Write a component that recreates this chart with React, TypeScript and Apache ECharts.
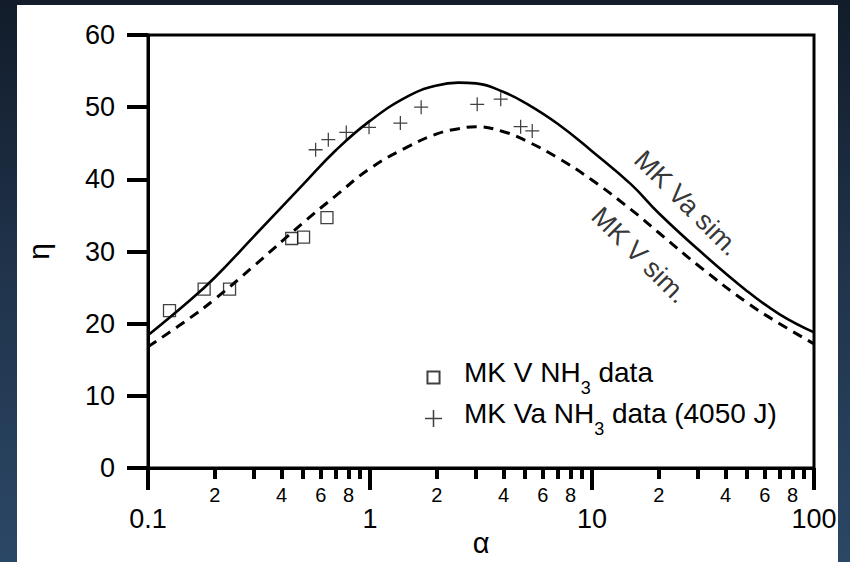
import React, { useEffect, useRef } from 'react';
import * as echarts from 'echarts';

// Simulation curves (alpha grid shared by both curves)
const simAlpha = [0.1, 0.15, 0.2, 0.3, 0.5, 0.7, 1, 1.5, 2, 2.5, 3, 4, 5, 7, 10, 15, 20, 30, 50, 70, 100];
const etaVaSim = [18.4, 22.9, 26.4, 32.1, 39.3, 44.0, 48.1, 51.6, 53.0, 53.4, 53.3, 52.1, 50.6, 47.7, 43.9, 39.3, 35.3, 30.3, 24.5, 21.3, 18.8];
const etaVSim = [16.8, 20.5, 23.4, 28.0, 34.0, 37.7, 41.5, 44.6, 46.3, 47.0, 47.3, 46.6, 45.4, 43.0, 39.9, 35.8, 32.6, 28.1, 22.9, 20.0, 17.2];

// Measured data
const mkVAlpha = [0.125, 0.179, 0.233, 0.444, 0.502, 0.64];
const mkVEta = [21.8, 24.8, 24.8, 31.8, 32.0, 34.7];
const mkVaAlpha = [0.569, 0.649, 0.782, 0.99, 1.37, 1.7, 3.04, 3.88, 4.77, 5.38];
const mkVaEta = [44.1, 45.5, 46.5, 47.2, 47.8, 50.0, 50.4, 51.1, 47.3, 46.7];

// Axis ticks
const majorTicks = [0.1, 1, 10, 100];
const minorTicks = [0.2, 0.3, 0.4, 0.5, 0.6, 0.7, 0.8, 0.9, 2, 3, 4, 5, 6, 7, 8, 9, 20, 30, 40, 50, 60, 70, 80, 90];
const minorLabels = [0.2, 0.4, 0.6, 0.8, 2, 4, 6, 8, 20, 40, 60, 80];

// Curve annotations [alpha, eta]
const labelVaPos = [26.8, 36.7];
const labelVPos = [16.4, 29.5];

const FONT = 'Liberation Sans, Arial, Helvetica, sans-serif';
const nameV = 'MK V NH3 data';
const nameVa = 'MK Va NH3 data (4050 J)';
const plusPath = 'path://M9.1,0H10.9V9.1H20V10.9H10.9V20H9.1V10.9H0V9.1H9.1Z';
const legendSquare = 'path://M0,0L0,0M20,20L20,20M2.9,2.9H17.1V17.1H2.9Z';

export default function App() {
  const ref = useRef<HTMLDivElement>(null);
  useEffect(() => {
    if (!ref.current) return;
    const chart = echarts.init(ref.current, null, { renderer: 'svg' });
    const zip = (a: number[], b: number[]) => a.map((v, i) => [v, b[i]]);
    const axisCommon = {
      type: 'log',
      logBase: 10,
      min: 0.1,
      max: 100,
      gridIndex: 0,
      position: 'bottom',
      splitLine: { show: false },
      minorTick: { show: false },
      minorSplitLine: { show: false },
    };
    chart.setOption({
      animation: false,
      backgroundColor: 'transparent',
      grid: {
        left: 148,
        top: 35,
        width: 666,
        height: 433,
        show: true,
        borderColor: '#000',
        borderWidth: 3,
        backgroundColor: 'transparent',
        outerBoundsMode: 'none',
        containLabel: false,
      },
      xAxis: [
        {
          ...axisCommon,
          name: 'α',
          nameLocation: 'middle',
          nameGap: 60,
          nameMoveOverlap: false,
          nameTextStyle: { fontSize: 29, color: '#000', fontFamily: FONT },
          axisLine: { show: true, lineStyle: { color: '#000', width: 3 } },
          axisTick: { show: true, customValues: majorTicks, length: 22, lineStyle: { color: '#000', width: 4 } },
          axisLabel: {
            show: true,
            customValues: majorTicks,
            margin: 37,
            fontSize: 27,
            color: '#000',
            fontFamily: FONT,
            formatter: (v: number) => (v < 1 ? '0.1' : String(Math.round(v))),
          },
        },
        {
          ...axisCommon,
          axisLine: { show: false },
          axisTick: { show: true, customValues: minorTicks, length: 11, lineStyle: { color: '#000', width: 4 } },
          axisLabel: {
            show: true,
            customValues: minorLabels,
            margin: 17,
            fontSize: 20,
            color: '#000',
            fontFamily: FONT,
            formatter: (v: number) => String(Math.round(v / Math.pow(10, Math.floor(Math.log10(v) + 1e-9)))),
          },
        },
      ],
      yAxis: {
        type: 'value',
        min: 0,
        max: 60,
        interval: 10,
        name: 'η',
        nameLocation: 'middle',
        nameRotate: 90,
        nameGap: 95,
        nameMoveOverlap: false,
        nameTextStyle: { fontSize: 30, color: '#000', fontFamily: FONT },
        axisLine: { show: true, lineStyle: { color: '#000', width: 3 } },
        axisTick: { show: true, length: 21, lineStyle: { color: '#000', width: 4 } },
        axisLabel: { margin: 33, fontSize: 27, color: '#000', fontFamily: FONT },
        splitLine: { show: false },
      },
      legend: {
        data: [{ name: nameV, icon: legendSquare }, { name: nameVa }],
        orient: 'vertical',
        left: 424,
        top: 358,
        padding: 0,
        itemGap: 2,
        itemWidth: 17,
        itemHeight: 17,
        selectedMode: false,
        formatter: (name: string) =>
          name === nameV ? '{m|MK V NH}{s|3}{m| data}' : '{m|MK Va NH}{s|3}{m| data (4050 J)}',
        textStyle: {
          padding: [0, 0, 0, 17],
          rich: {
            m: { fontSize: 28, fontFamily: FONT, color: '#000', verticalAlign: 'top' },
            s: { fontSize: 18, fontFamily: FONT, color: '#000', verticalAlign: 'top', padding: [21, 0, 0, 0] },
          },
        },
      },
      series: [
        {
          name: 'MK Va sim.',
          type: 'line',
          xAxisIndex: 0,
          data: zip(simAlpha, etaVaSim),
          smooth: 0.45,
          showSymbol: false,
          lineStyle: { color: '#000', width: 2.6 },
          z: 2,
        },
        {
          name: 'MK V sim.',
          type: 'line',
          xAxisIndex: 0,
          data: zip(simAlpha, etaVSim),
          smooth: 0.45,
          showSymbol: false,
          lineStyle: { color: '#000', width: 3, type: [10, 7] },
          z: 2,
        },
        {
          name: nameV,
          type: 'scatter',
          xAxisIndex: 0,
          data: zip(mkVAlpha, mkVEta),
          symbol: 'rect',
          symbolSize: 12,
          itemStyle: { color: 'rgba(255,255,255,0)', borderColor: '#111', borderWidth: 1.3 },
          z: 3,
        },
        {
          name: nameVa,
          type: 'scatter',
          xAxisIndex: 0,
          data: zip(mkVaAlpha, mkVaEta),
          symbol: plusPath,
          symbolSize: 14,
          itemStyle: { color: '#111' },
          z: 3,
        },
        {
          name: 'annotations',
          type: 'scatter',
          xAxisIndex: 0,
          symbolSize: 0,
          silent: true,
          itemStyle: { color: '#000' },
          data: [
            { value: labelVaPos, label: { formatter: 'MK Va sim.' } },
            { value: labelVPos, label: { formatter: 'MK V sim.' } },
          ],
          label: {
            show: true,
            position: 'inside',
            rotate: -45,
            fontSize: 27,
            color: '#000',
            textBorderWidth: 0,
            textBorderColor: 'transparent',
            fontFamily: FONT,
          },
          z: 4,
        },
      ],
    });
    return () => chart.dispose();
  }, []);

  return (
    <div
      style={{
        position: 'fixed',
        left: 0,
        top: 0,
        width: 850,
        height: 562,
        overflow: 'hidden',
        background: 'linear-gradient(180deg, #121c2a 0%, #1f3249 45%, #2b4766 100%)',
      }}
    >
      <div style={{ position: 'absolute', left: 17, top: 5, width: 821, height: 557, background: '#fff' }} />
      <div ref={ref} style={{ position: 'absolute', left: 0, top: 0, width: 850, height: 562 }} />
    </div>
  );
}
